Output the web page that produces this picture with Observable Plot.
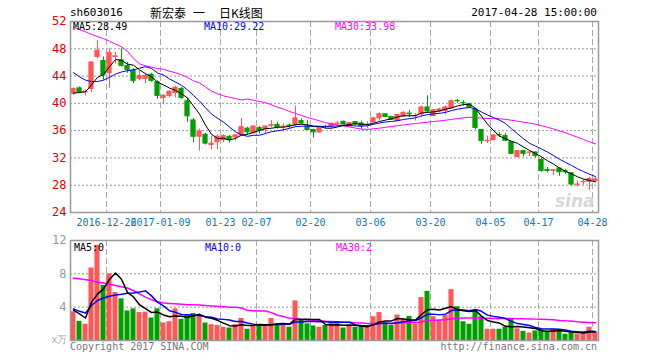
<!DOCTYPE html>
<html><head><meta charset="utf-8">
<script src="https://cdn.jsdelivr.net/npm/d3@7"></script>
<script src="https://cdn.jsdelivr.net/npm/@observablehq/plot@0.6"></script>
<style>
body{margin:0;background:#fff;}
#wrap{position:relative;width:660px;height:360px;overflow:hidden;font-family:"DejaVu Sans Mono",monospace;}
#wrap svg{position:absolute;left:0;}
.t{position:absolute;font-size:10px;white-space:nowrap;line-height:10px;}
</style></head><body><div id="wrap"></div>
<script>
// ---- data (index 0 = 2016-12-16 ... index 87 = 2017-04-28) ----
const open  = [41.4,42.2,41.6,42.1,46.8,46.2,44.4,46.8,46.3,45.5, 44.8,43.6,43.6,44.2,43.1,40.8,41.1,41.5,42.1,40.3, 37.5,35.1,35.4,33.9,34.3,34.6,35.1,35.0,35.3,36.3, 35.6,36.4,36.2,36.7,36.85,36.55,36.75,36.8,37.4,36.6, 36.1,35.75,36.55,36.5,37.0,37.3,36.6,37.25,37.05,36.8, 37.2,37.8,38.4,38.0,37.4,38.1,38.5,38.1,38.4,39.4, 38.15,38.8,38.9,39.3,40.35,40.05,39.85,39.1,36.1,34.45, 34.6,35.35,35.2,34.3,32.15,33.0,32.75,32.8,31.7,30.25, 30.1,30.45,30.05,29.75,28.05,28.45,28.5,28.6];
const high  = [42.3,42.4,42.0,46.0,49.2,46.8,48.0,47.5,48.0,46.0, 45.1,44.8,44.3,44.4,43.3,41.3,41.9,42.5,42.3,40.8, 37.8,36.2,35.6,35.2,35.4,35.4,35.3,35.4,37.8,36.5, 36.7,36.6,36.7,37.5,37.2,37.0,37.0,39.6,37.7,37.5, 36.2,36.5,36.8,37.1,37.4,37.4,37.2,37.3,37.4,37.3, 37.9,38.6,38.5,38.1,38.4,38.8,39.0,38.5,39.6,41.1, 39.1,39.3,39.6,40.5,40.6,40.4,40.0,39.2,36.2,35.2, 35.4,35.7,35.6,34.4,33.1,33.1,33.0,32.9,32.0,30.6, 30.3,30.5,30.3,29.85,28.6,28.8,29.1,29.1];
const low   = [41.2,41.4,41.1,41.6,46.5,43.4,42.2,45.8,45.3,44.4, 42.9,43.3,42.9,43.1,40.6,39.8,40.8,40.8,40.6,37.2, 34.2,33.0,33.9,33.2,33.2,34.2,34.2,34.5,35.2,35.3, 35.5,35.5,35.5,36.4,36.2,35.8,36.3,36.5,36.8,36.0, 34.9,35.6,36.3,36.3,36.6,36.8,36.5,36.7,36.2,36.3, 37.1,37.4,37.9,37.5,37.3,37.9,37.9,37.4,38.0,38.6, 38.0,38.6,38.3,39.2,40.0,39.6,39.3,36.1,34.0,34.1, 34.5,35.0,34.4,32.5,32.0,32.15,32.2,32.0,29.9,29.8, 29.4,29.3,29.6,27.9,27.7,28.0,27.2,28.5];
const close = [42.1,41.6,41.7,46.0,47.7,44.1,47.4,46.9,45.5,44.9, 43.3,44.0,44.0,43.3,41.1,41.1,41.7,42.3,40.8,38.1, 35.1,35.9,34.1,34.1,35.1,35.2,34.6,35.3,36.5,35.75, 36.6,36.0,36.6,36.8,36.5,36.6,36.7,37.8,37.05,36.1, 35.75,36.4,36.5,37.0,37.05,36.9,37.1,36.95,36.7,36.85, 37.8,38.4,38.0,37.6,38.3,38.6,38.4,38.15,39.4,38.8, 39.0,39.1,39.4,40.3,40.3,40.0,39.4,36.4,34.5,34.5, 35.3,35.3,34.5,32.6,33.0,32.6,32.8,32.3,30.1,30.1, 30.2,29.9,29.9,28.1,28.1,28.5,28.9,28.85];
const volume = [3.45,2.3,1.95,8.7,11.4,6.6,8.0,5.75,5.0,3.55, 3.8,3.35,3.4,2.7,3.8,2.1,2.25,3.8,2.55,3.05, 3.25,3.05,2.1,1.9,1.8,1.6,1.5,1.9,2.65,1.35, 1.8,1.9,1.8,2.65,1.9,1.9,1.6,4.75,2.45,2.0, 1.75,1.6,1.8,2.15,2.15,1.5,1.75,1.6,1.75,1.6, 2.85,3.35,2.15,1.8,3.05,2.55,2.9,1.95,5.15,5.9, 2.85,2.45,3.05,6.1,4.05,2.25,1.95,3.55,2.85,1.35, 1.35,1.35,1.6,2.65,1.4,1.1,0.9,1.15,1.35,1.0, 1.35,1.1,0.75,0.95,0.8,0.95,1.6,1.0];
const ma5Head  = [41.5,41.6,41.7,42.7];
const ma10Head = [44.5,43.9,43.4,43.2,43.2,43.4,43.8,44.3,44.6];
const ma30Head = [51.2,50.8,50.5,50.1,49.8,49.5,49.1,48.7,48.3,47.6, 46.6,45.8,45.5,45.3,45.1,45.0,44.7,44.5,44.2,43.8, 43.3,43.0,42.4,41.8,41.4,41.1,40.9,40.7,40.5];
const vma5Head  = [3.65,3.2,2.7,4.6];
const vma10Head = [3.8,3.5,3.3,4.2,4.8,5.1,5.3,5.45,5.55];
const vma30Head = [7.5,7.4,7.3,7.2,7.0,6.9,6.75,6.6,6.45,6.3, 6.0,5.6,5.2,4.9,4.65,4.5,4.45,4.4,4.35,4.3, 4.3,4.25,4.2,4.15,4.1,4.05,4.0,4.0,3.9];
// legend values as printed on the chart
const priceMaNames = ["MA5","MA10","MA30"];
const priceMaLast  = ["28.49","29.22","33.98"];
const volMaLast    = ["0","0","2"];
const tickIndex  = [6,15,25,31,40,50,60,70,78,87];
const tickLabels = ["2016-12-26","2017-01-09","01-23","02-07","02-20","03-06","03-20","04-05","04-17","04-28"];
const priceTicks = [24,28,32,36,40,44,48,52];
const volTicks = [4,8,12];

// ---- helpers ----
const RED = "#ff5656", GREEN = "#00a000";
const idx = d3.range(close.length);
const col = i => close[i] >= open[i] ? RED : GREEN;
function ma(vals, k, head){ return vals.map((_, i) => i < k - 1 ? head[i] : d3.mean(vals.slice(i - k + 1, i + 1))); }
const ma5 = ma(close,5,ma5Head), ma10 = ma(close,10,ma10Head), ma30 = ma(close,30,ma30Head);
const vma5 = ma(volume,5,vma5Head), vma10 = ma(volume,10,vma10Head), vma30 = ma(volume,30,vma30Head);
const font = {fontFamily:"'DejaVu Sans Mono',monospace", fontSize:"10px", background:"transparent", overflow:"visible"};
const xDom = [-0.5, close.length - 0.5];

const price = Plot.plot({
  width:660, height:236, marginLeft:70, marginRight:62, marginTop:21, marginBottom:24,
  style:font,
  x:{domain:xDom, axis:null}, y:{domain:[24,52], axis:null},
  marks:[
    Plot.ruleY(priceTicks.slice(1,-1), {stroke:"#999", strokeDasharray:"2,2"}),
    Plot.ruleX(tickIndex, {x:d=>d-0.5, stroke:"#aaa", strokeDasharray:"6,3"}),
    Plot.ruleX(idx, {x:i=>i, y1:i=>low[i], y2:i=>high[i], stroke:col}),
    Plot.rect(idx, {x1:i=>i-0.35, x2:i=>i+0.35, y1:i=>open[i], y2:i=>close[i], fill:col, stroke:col}),
    Plot.line(idx, {x:i=>i, y:i=>ma30[i], stroke:"#ff00ff", strokeWidth:1}),
    Plot.line(idx, {x:i=>i, y:i=>ma10[i], stroke:"#0000ff", strokeWidth:1}),
    Plot.line(idx, {x:i=>i, y:i=>ma5[i], stroke:"#000", strokeWidth:1}),
    Plot.frame({stroke:"#999", strokeWidth:1.5}),
    Plot.text(priceTicks, {y:d=>d, text:d=>String(d), frameAnchor:"left", textAnchor:"end", dx:-4, fill:"#e00000", fontSize:12}),
    Plot.text(tickIndex, {x:d=>d-0.5, text:(d,j)=>tickLabels[j], frameAnchor:"bottom", lineAnchor:"top", dy:6, fill:"#0a78c8"}),
    Plot.text(["sina"], {frameAnchor:"bottom-right", dx:-4, dy:-6, text:d=>d, fill:"#d8d8d8", fontSize:17, fontWeight:"bold", fontStyle:"italic", textAnchor:"end", lineAnchor:"bottom", fontFamily:"DejaVu Sans"})
  ]
});
price.style.top = "0px";

const vol = Plot.plot({
  width:660, height:125, marginLeft:70, marginRight:62, marginTop:10, marginBottom:15,
  style:font,
  x:{domain:xDom, axis:null}, y:{domain:[0,12], axis:null},
  marks:[
    Plot.ruleY([4,8], {stroke:"#999", strokeDasharray:"2,2"}),
    Plot.ruleX(tickIndex, {x:d=>d-0.5, stroke:"#aaa", strokeDasharray:"6,3"}),
    Plot.rect(idx, {x1:i=>i-0.42, x2:i=>i+0.42, y1:0, y2:i=>volume[i], fill:col}),
    Plot.line(idx, {x:i=>i, y:i=>vma30[i], stroke:"#ff00ff"}),
    Plot.line(idx, {x:i=>i, y:i=>vma10[i], stroke:"#0000ff"}),
    Plot.line(idx, {x:i=>i, y:i=>vma5[i], stroke:"#000"}),
    Plot.frame({stroke:"#999", strokeWidth:1.5}),
    Plot.text(volTicks, {y:d=>d, text:d=>String(d), frameAnchor:"left", textAnchor:"end", dx:-4, fill:"#999", fontSize:12}),
    Plot.text(["x万"], {y:0, text:d=>d, frameAnchor:"left", textAnchor:"end", dx:-3, dy:-1, fill:"#aaa", fontSize:10})
  ]
});
vol.style.top = "230px";

const wrap = document.getElementById("wrap");
wrap.append(price, vol);
function label(txt, x, y, color, extra){
  const d = document.createElement("div"); d.className = "t"; d.textContent = txt;
  d.style.left = x + "px"; d.style.top = y + "px"; d.style.color = color;
  if (extra) Object.assign(d.style, extra);
  wrap.append(d); return d;
}
const maColors = ["#000","#0000ff","#ff00ff"];
const maX = [73,204,335];
label("sh603016", 70, 8, "#000", {fontSize:"11px"});
label("新宏泰", 150, 6, "#000", {fontFamily:"'Noto Sans CJK SC',sans-serif", fontSize:"12px", lineHeight:"14px"});
label("一", 193, 6, "#000", {fontFamily:"'Noto Sans CJK SC',sans-serif", fontSize:"12px", lineHeight:"14px"});
label("日K线图", 219, 6, "#000", {fontFamily:"'Noto Sans CJK SC',sans-serif", fontSize:"12px", lineHeight:"14px"});
label("2017-04-28 15:00:00", 0, 8, "#000", {left:"auto", right:"63px", fontSize:"11px"});
priceMaNames.forEach((n, k) => label(n + ":" + priceMaLast[k], maX[k], 22, maColors[k]));
priceMaNames.forEach((n, k) => label(n + ":" + volMaLast[k], maX[k] + 1, 243, maColors[k]));
label("Copyright 2017 SINA.COM", 70, 342, "#777");
label("http://finance.sina.com.cn", 0, 342, "#777", {left:"auto", right:"63px"});
</script></body></html>
